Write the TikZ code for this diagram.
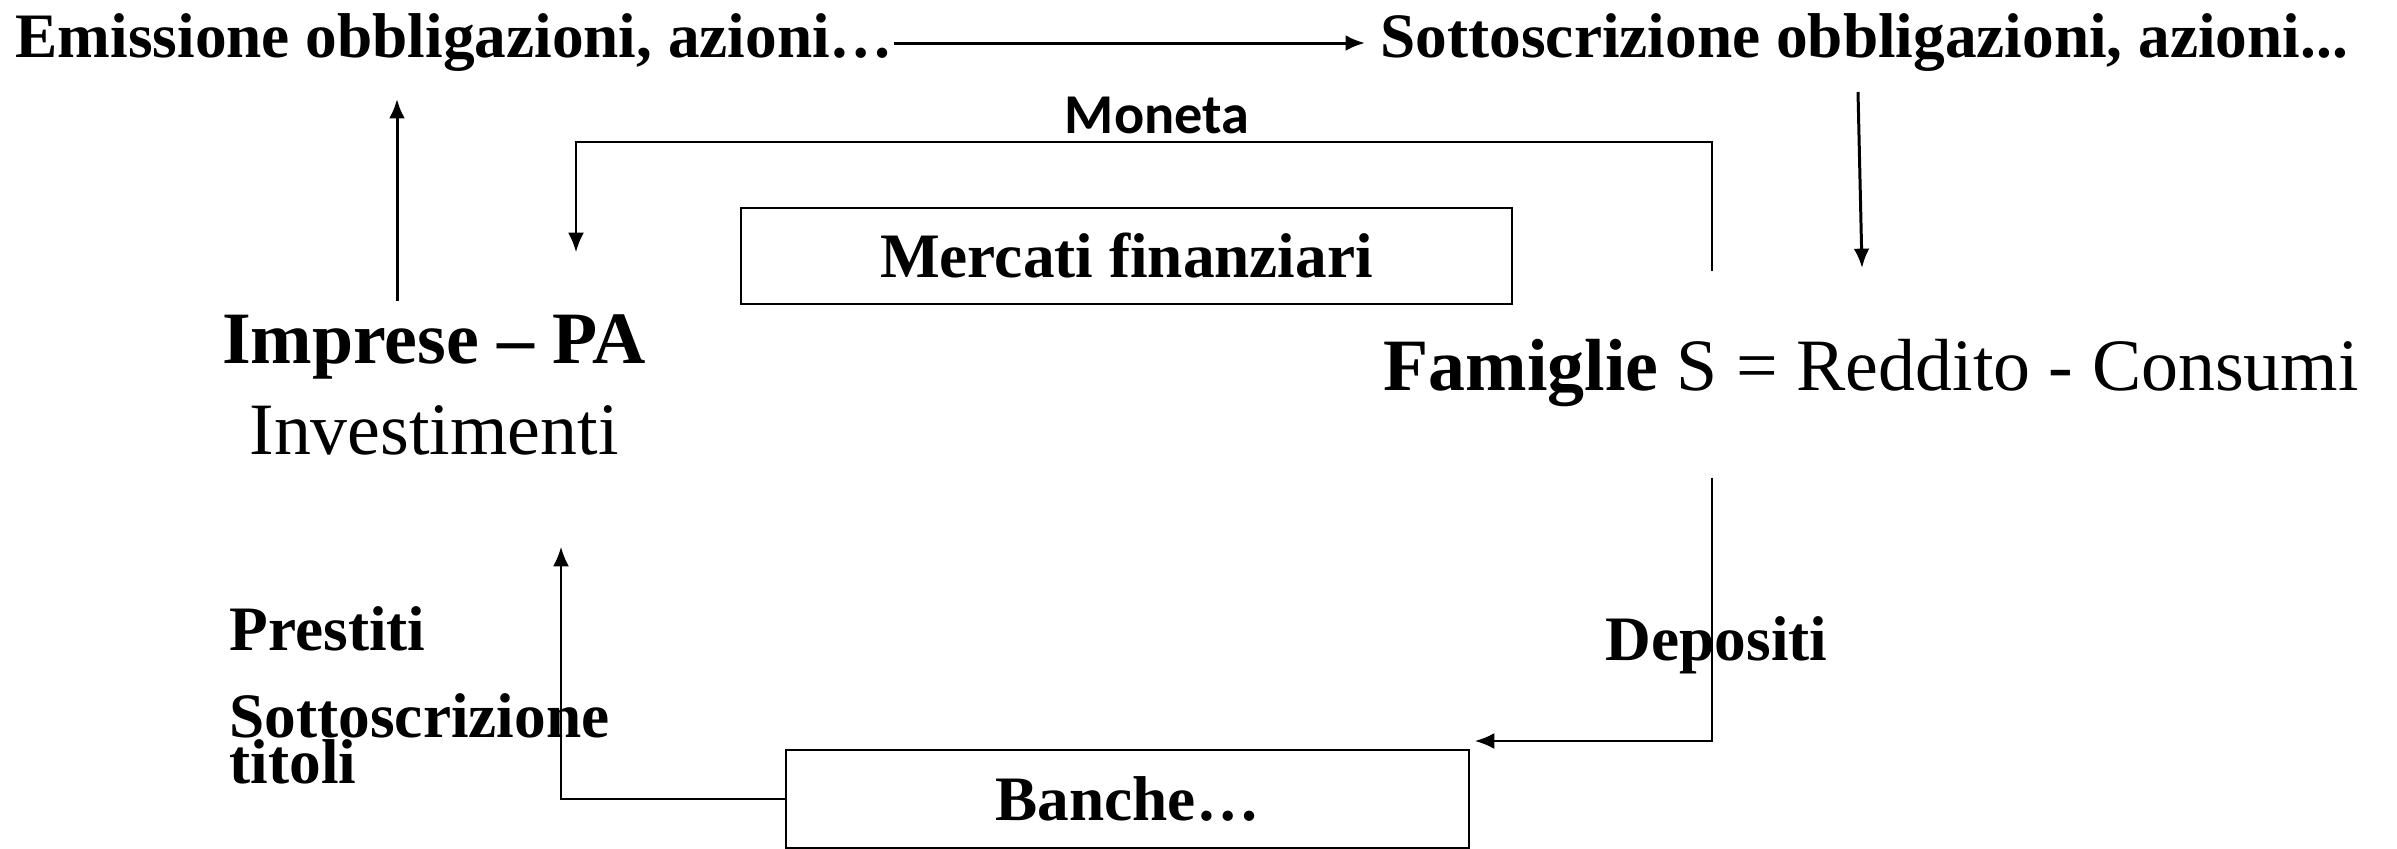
\documentclass[tikz,border=0pt]{standalone}
\usepackage{fontspec}
\setmainfont{Liberation Serif}
\newfontfamily\carlito{Carlito}
\usetikzlibrary{positioning,arrows.meta}

\tikzset{
  txtbold/.style={font=\fontsize{18}{13}\selectfont\bfseries, inner sep=0pt},
  txtbig/.style={font=\fontsize{21}{26}\selectfont, inner sep=0pt},
  market/.style={draw, line width=0.45pt, inner sep=0pt, font=\fontsize{18}{20}\selectfont\bfseries},
  flow/.style={line width=0.5pt},
  flowthick/.style={line width=0.85pt},
}

\begin{document}
\begin{tikzpicture}[>={Latex[length=5.5pt,width=4.5pt]}, x=0.01cm, y=-0.01cm]
\useasboundingbox (0,0) rectangle (2397,849);

% The two titles on top and the arrow between them
\node [txtbold, anchor=base west] (emis) at (15,58) {Emissione obbligazioni, azioni\ldots};
\node [txtbold, anchor=base west] (sotto) at (1380,58) {Sottoscrizione obbligazioni, azioni...};
\draw [flowthick, ->, shorten >=0.15cm] (emis.east) -- (sotto.west);

% The sectors
\node [txtbig, align=center, anchor=base] (impr) at (434,455) {\textbf{Imprese -- PA}\\Investimenti};
\node [txtbig, anchor=base west] (fam) at (1383,390) {\textbf{Famiglie} S = Reddito - Consumi};

% The two intermediaries
\node [market, minimum width=7.71cm, minimum height=0.96cm] (merc) at (1126.5,256) {Mercati finanziari};
\node [market, minimum width=6.83cm, minimum height=0.98cm] (banche) at (1127.5,799) {Banche\ldots};

% Free ends of the connectors
\coordinate (imprtop) at (397,301);
\coordinate (emisfoot) at (397,99);
\coordinate (sottofoot) at (1858,92);
\coordinate (famtop) at (1862,268);
\coordinate (monstart) at (1712,271);
\coordinate (monend) at (576,252);
\coordinate (depstart) at (1712,478);
\coordinate (depend) at (1475,741);
\coordinate (prestend) at (561,547);

% Emission and subscription
\draw [flowthick, ->] (imprtop) -- (emisfoot);
\draw [flowthick, ->] (sottofoot) -- (famtop);

% Money through the markets
\draw [flow, ->] (monstart) -- (1712,142) -| (monend);
\node [font=\fontsize{16}{18}\selectfont\carlito\bfseries, inner sep=0pt, anchor=base] (moneta) at (1157,134) {Moneta};

% Deposits and loans through the banks
\draw [flow, ->] (depstart) |- (depend);
\node [txtbold, anchor=base west] (dep) at (1605,660) {Depositi};
\draw [flow, ->] (banche.west) -| (prestend);
\node [txtbold, anchor=base west] (prest) at (229,650) {Prestiti};
\node [txtbold, anchor=base west, align=left] (sottotit) at (229,783) {Sottoscrizione\\titoli};
\end{tikzpicture}
\end{document}
